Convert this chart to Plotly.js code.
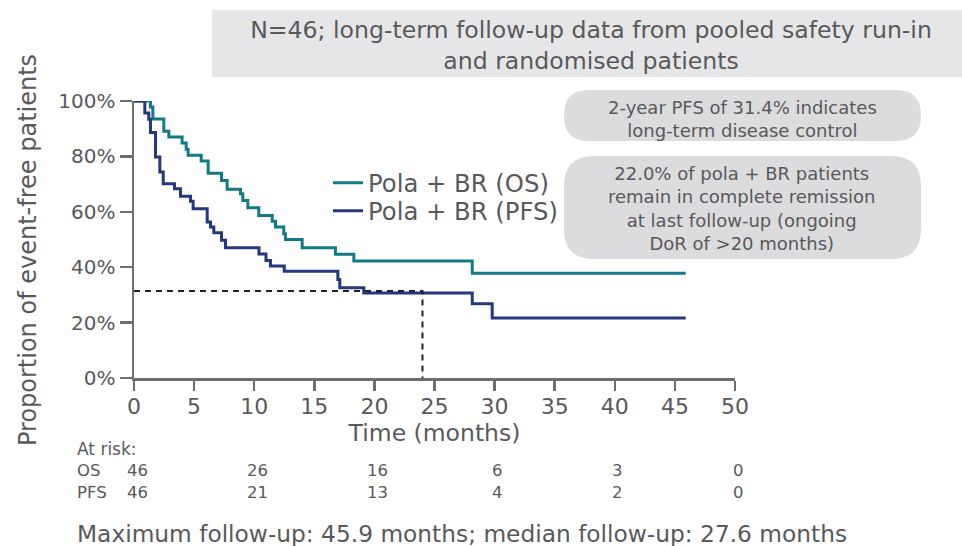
<!DOCTYPE html>
<html>
<head>
<meta charset="utf-8">
<script src="https://cdn.plot.ly/plotly-3.0.1.min.js"></script>
<style>html,body{margin:0;padding:0;background:#fff;}#chart{width:962px;height:546px;}</style>
</head>
<body>
<div id="chart"></div>
<script>
// ---- data ----
const osTime = [0, 1.37, 1.57, 2.48, 2.9, 4.0, 4.34, 4.5, 5.59, 6.17, 7.28, 7.75, 8.86, 9.05, 9.47, 10.38, 11.5, 11.77, 12.46, 12.6, 13.99, 16.76, 18.29, 28.14, 45.9];
const osSurv = [100, 97.8, 93.5, 89.1, 87.0, 84.8, 82.6, 80.4, 78.3, 73.9, 71.3, 68.1, 66.5, 64.1, 61.5, 58.7, 56.6, 54.5, 52.1, 50.0, 47.0, 44.7, 42.2, 37.8, 37.8];
const pfsTime = [0, 0.9, 1.23, 1.37, 1.79, 2.15, 2.43, 3.37, 3.87, 4.70, 4.92, 6.09, 6.36, 6.64, 7.28, 7.61, 10.4, 10.98, 11.35, 12.5, 16.96, 17.12, 19.12, 28.14, 29.8, 45.9];
const pfsSurv = [100, 95.7, 93.4, 88.6, 79.8, 74.4, 70.1, 68.3, 65.6, 63.8, 61.1, 56.3, 54.5, 52.4, 49.7, 47.0, 44.8, 42.4, 40.4, 38.5, 35.6, 32.6, 30.7, 26.8, 21.7, 21.7];
const seriesNames = ["Pola + BR (OS)", "Pola + BR (PFS)"];
const landmarkTime = [0, 24, 24];
const landmarkPFS = [31.4, 31.4, 0];
const riskTimes = [0, 10, 20, 30, 40, 50];
const riskOS = [46, 26, 16, 6, 3, 0];
const riskPFS = [46, 21, 13, 4, 2, 0];
const xTicks = [0, 5, 10, 15, 20, 25, 30, 35, 40, 45, 50];
const yTicks = [0, 20, 40, 60, 80, 100];
const yTickText = ["0%", "20%", "40%", "60%", "80%", "100%"];
const titleText = "N=46; long-term follow-up data from pooled safety run-in<br>and randomised patients";
const box1Text = "2-year PFS of 31.4% indicates<br>long-term disease control";
const box2Text = "22.0% of pola + BR patients<br>remain in complete remission<br>at last follow-up (ongoing<br>DoR of >20 months)";
const footerText = "Maximum follow-up: 45.9 months; median follow-up: 27.6 months";

// ---- layout helpers (pixel -> paper) ----
const W = 962, H = 546;
const M = {l: 134, r: 227, t: 101, b: 168};
const PW = W - M.l - M.r, PH = H - M.t - M.b;
const px = x => (x - M.l) / PW;
const py = y => (H - M.b - y) / PH;
function roundRect(x0, y0, x1, y1, r) {
  const X = v => px(v).toFixed(5), Y = v => py(v).toFixed(5);
  return `M ${X(x0 + r)},${Y(y0)} L ${X(x1 - r)},${Y(y0)} Q ${X(x1)},${Y(y0)} ${X(x1)},${Y(y0 + r)} ` +
         `L ${X(x1)},${Y(y1 - r)} Q ${X(x1)},${Y(y1)} ${X(x1 - r)},${Y(y1)} ` +
         `L ${X(x0 + r)},${Y(y1)} Q ${X(x0)},${Y(y1)} ${X(x0)},${Y(y1 - r)} ` +
         `L ${X(x0)},${Y(y0 + r)} Q ${X(x0)},${Y(y0)} ${X(x0 + r)},${Y(y0)} Z`;
}

const FONT = "DejaVu Sans, sans-serif";
const GREY = "#58595b";
const TEAL = "#127a87";
const NAVY = "#24377f";

const traces = [
  {x: osTime, y: osSurv, name: seriesNames[0], type: "scatter", mode: "lines", legend: "legend",
   line: {shape: "hv", color: TEAL, width: 3}},
  {x: pfsTime, y: pfsSurv, name: seriesNames[1], type: "scatter", mode: "lines", legend: "legend2",
   line: {shape: "hv", color: NAVY, width: 3}},
  {x: landmarkTime, y: landmarkPFS, type: "scatter", mode: "lines", showlegend: false,
   line: {color: "#222", width: 2, dash: "6px,5px"}}
];

function note(xp, yp, text, size, xa) {
  return {xref: "paper", yref: "paper", x: px(xp), y: py(yp), xanchor: xa || "center", yanchor: "middle",
          text: text, showarrow: false, font: {family: FONT, size: size, color: GREY}};
}
const annotations = [];
const yt = note(28, 250, "Proportion of event-free patients", 24);
yt.textangle = -90;
annotations.push(yt);
annotations.push(note(742, 119, box1Text, 18));
annotations.push(note(742, 208, box2Text, 18));
annotations.push(note(75, 449, "At risk:", 17, "left"));
annotations.push(note(75, 470, "OS", 16.5, "left"));
annotations.push(note(75, 492, "PFS", 16.5, "left"));
riskTimes.forEach((t, i) => {
  annotations.push({xref: "x", yref: "paper", x: t, xshift: 3, y: py(470), xanchor: "center", yanchor: "middle",
    text: String(riskOS[i]), showarrow: false, font: {family: FONT, size: 16.5, color: GREY}});
  annotations.push({xref: "x", yref: "paper", x: t, xshift: 3, y: py(492), xanchor: "center", yanchor: "middle",
    text: String(riskPFS[i]), showarrow: false, font: {family: FONT, size: 16.5, color: GREY}});
});
annotations.push(note(75, 533, footerText, 23.3, "left"));

const legendCommon = {xanchor: "left", yanchor: "middle", bgcolor: "rgba(0,0,0,0)",
                      font: {family: FONT, size: 24.3, color: GREY}};
const layout = {
  width: W, height: H, margin: M,
  paper_bgcolor: "#fff", plot_bgcolor: "#fff",
  font: {family: FONT, color: GREY},
  title: {text: titleText, xref: "container", yref: "container", x: 591 / W, xanchor: "center",
          y: 1 - 38 / H, yanchor: "middle", font: {family: FONT, size: 23.6, color: GREY}},
  xaxis: {range: [0, 50], tickvals: xTicks, ticks: "outside", ticklen: 10, tickwidth: 2.5, tickcolor: "#6d6e71",
          showline: true, linecolor: "#6d6e71", linewidth: 2.5, showgrid: false, zeroline: false,
          tickfont: {family: FONT, size: 22, color: GREY}, ticklabelstandoff: -3,
          title: {text: "Time (months)", font: {family: FONT, size: 23.5, color: GREY}, standoff: 0}},
  yaxis: {range: [0, 100], tickvals: yTicks, ticktext: yTickText, ticks: "outside", ticklen: 12, tickwidth: 2.5,
          tickcolor: "#6d6e71", showline: true, linecolor: "#6d6e71", linewidth: 2.5, showgrid: false, zeroline: false,
          tickfont: {family: FONT, size: 20, color: GREY}},
  showlegend: true,
  legend: Object.assign({x: px(328), y: py(183)}, legendCommon),
  legend2: Object.assign({x: px(328), y: py(211)}, legendCommon),
  shapes: [
    {type: "rect", xref: "paper", yref: "paper", x0: px(212), x1: px(962), y0: py(77), y1: py(10),
     fillcolor: "#e6e6e8", line: {width: 0}, layer: "below"},
    {type: "path", xref: "paper", yref: "paper", path: roundRect(564, 90, 921, 141, 25),
     fillcolor: "#dcdbdd", line: {width: 0}, layer: "below"},
    {type: "path", xref: "paper", yref: "paper", path: roundRect(564, 156, 921, 259, 30),
     fillcolor: "#dcdbdd", line: {width: 0}, layer: "below"}
  ],
  annotations: annotations
};

Plotly.newPlot("chart", traces, layout, {displayModeBar: false, staticPlot: true});
</script>
</body>
</html>
